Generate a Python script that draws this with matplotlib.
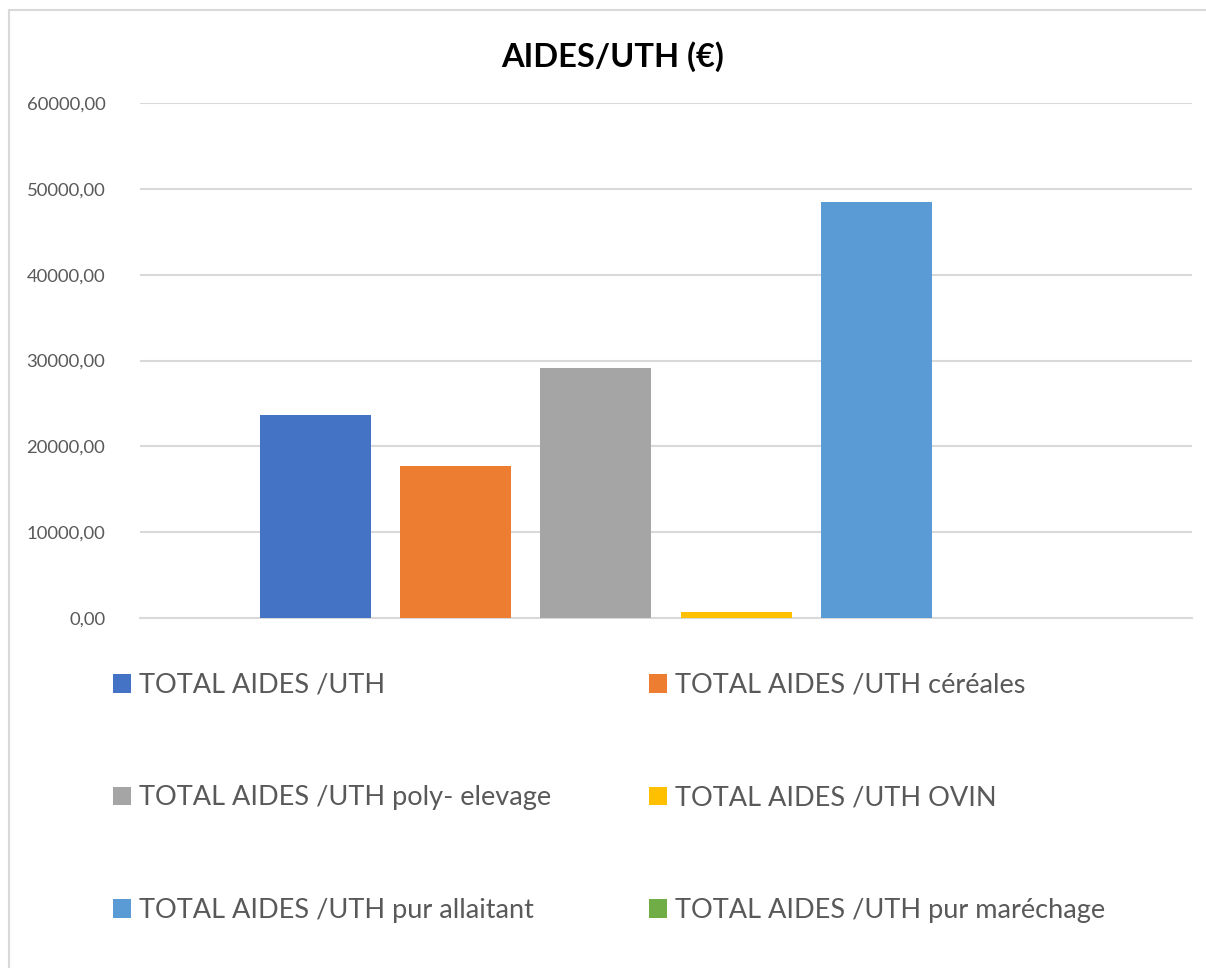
import matplotlib
matplotlib.use("Agg")
import matplotlib.pyplot as plt
from matplotlib.patches import Patch, Rectangle
from matplotlib.ticker import FuncFormatter

# Series data
series_labels = [
    "TOTAL AIDES /UTH",
    "TOTAL AIDES /UTH céréales",
    "TOTAL AIDES /UTH poly- elevage",
    "TOTAL AIDES /UTH OVIN",
    "TOTAL AIDES /UTH pur allaitant",
    "TOTAL AIDES /UTH pur maréchage",
]
series_values = [23650, 17700, 29150, 700, 48450, 0]
series_colors = ["#4472C4", "#ED7D31", "#A5A5A5", "#FFC000", "#5B9BD5", "#70AD47"]
y_ticks = [0, 10000, 20000, 30000, 40000, 50000, 60000]
title = "AIDES/UTH (€)"

W, H, DPI = 1206, 968, 100
fig = plt.figure(figsize=(W / DPI, H / DPI), dpi=DPI)
fig.patch.set_facecolor("white")

# chart frame
fig.patches.append(Rectangle((9 / W, -0.1), 1.2, (H - 10) / H + 0.1,
                             transform=fig.transFigure, fill=False,
                             edgecolor="#D9D9D9", linewidth=1.5))

ax_left, ax_right, ax_top, ax_bottom = 140, 1192, 103, 618
ax = fig.add_axes([ax_left / W, 1 - ax_bottom / H,
                   (ax_right - ax_left) / W, (ax_bottom - ax_top) / H])

text_color = "#595959"
font = "Lato"

positions = list(range(len(series_values)))
ax.bar(positions, series_values, width=0.793, color=series_colors, zorder=3)

ax.set_xlim(-1.254, len(series_values) - 1 + 1.254)
ax.set_ylim(0, 60000)
ax.set_yticks(y_ticks)
ax.yaxis.set_major_formatter(FuncFormatter(lambda v, p: f"{v:.2f}".replace(".", ",")))
ax.set_xticks([])
ax.grid(axis="y", color="#D9D9D9", linewidth=1.5, zorder=0)
for s in ["left", "right", "top"]:
    ax.spines[s].set_visible(False)
ax.spines["bottom"].set_color("#D9D9D9")
ax.spines["bottom"].set_linewidth(1.5)
ax.tick_params(axis="y", length=0, pad=25, labelsize=13.3, labelcolor=text_color)
for lbl in ax.get_yticklabels():
    lbl.set_fontfamily(font)

fig.text(613 / W, 1 - 57 / H, title, ha="center", va="center",
         fontsize=23.5, fontweight="bold", color="black", fontfamily=font)

handles = [Patch(facecolor=c, edgecolor="none") for c in series_colors]
for col, x0 in enumerate([113, 649]):
    idx = [col, col + 2, col + 4]
    leg = fig.legend([handles[i] for i in idx], [series_labels[i] for i in idx],
                     loc="upper left", bbox_to_anchor=(x0 / W, 1 - 673 / H),
                     frameon=False, handlelength=0.67, handleheight=0.67,
                     handletextpad=0.3, labelspacing=3.23, borderpad=0,
                     borderaxespad=0, prop={"family": font, "size": 19.5})
    for t in leg.get_texts():
        t.set_color(text_color)

fig.savefig("out.png", dpi=DPI)
